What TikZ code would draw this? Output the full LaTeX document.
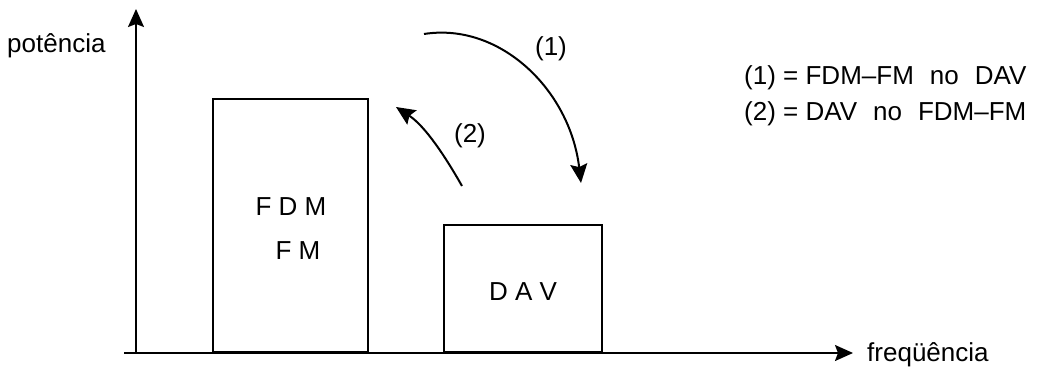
\documentclass[tikz,border=0pt]{standalone}
\usepackage{fontspec}
\setmainfont{Liberation Sans}
\usetikzlibrary{arrows.meta}
\begin{document}
\begin{tikzpicture}[x=1pt,y=-1pt,
  lbl/.style={font=\fontsize{26}{30}\selectfont, inner sep=0pt},
  bar/.style={draw, line width=1.6pt, inner sep=0pt},
  axis/.style={line width=1.8pt, -{Stealth[length=18pt,width=16pt,inset=3pt]}},
  curved/.style={line width=2pt, -{Stealth[length=19pt,width=17pt,inset=3pt]}}]
\useasboundingbox (0,0) rectangle (1045,367);
% axes
\coordinate (o) at (136,353);
\coordinate (xs) at (124,353);
\coordinate (xe) at (853,353);
\coordinate (ye) at (136,9);
\draw[axis] (o) -- (ye);
\draw[axis] (xs) -- (xe);
\node[lbl, anchor=west] (pot) at (7,46) {potência};
\node[lbl, anchor=west] (freq) at (867,355) {freqüência};
% bars
\node[bar, minimum width=155pt, minimum height=253pt, anchor=south west] (fdm) at (212,353) {};
\node[bar, minimum width=158pt, minimum height=127pt, anchor=south west] (dav) at (443,353) {};
\node[lbl] (t1) at (291,207) {F D M};
\node[lbl] (t2) at (298,251) {F M};
\node[lbl] (t3) at (523,292) {D A V};
% arrows
\coordinate (a1s) at (424,34);
\coordinate (a1e) at (581,183);
\draw[curved] (a1s) .. controls (500,22) and (570,90) .. (a1e);
\node[lbl] (l1) at (551,49) {(1)};
\coordinate (a2s) at (462,186);
\coordinate (a2e) at (396,107);
\draw[curved] (a2s) .. controls (445,156) and (425,126) .. (a2e);
\node[lbl] (l2) at (470,136) {(2)};
% legend
\node[lbl, anchor=west] (leg1) at (744,78) {(1) = FDM–FM\hspace{16pt}no\hspace{16pt}DAV};
\node[lbl, anchor=west] (leg2) at (744,114) {(2) = DAV\hspace{16pt}no\hspace{16pt}FDM–FM};
\end{tikzpicture}
\end{document}
